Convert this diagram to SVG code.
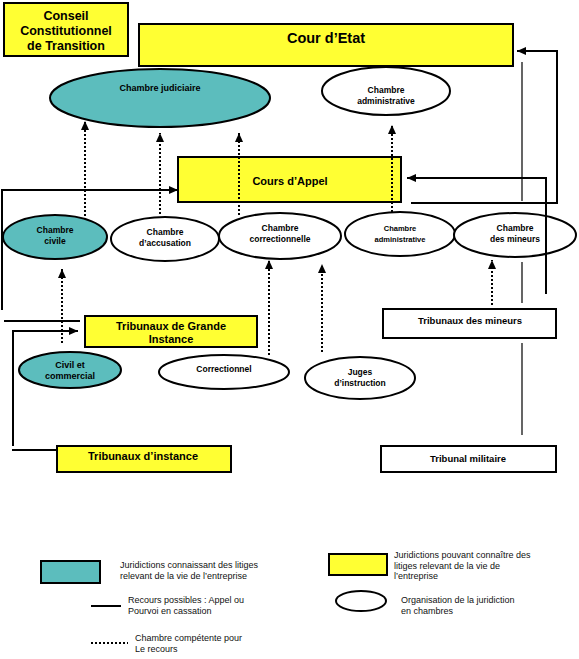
<svg xmlns="http://www.w3.org/2000/svg" width="579" height="659" viewBox="0 0 579 659">
<defs>
<marker id="ah" markerUnits="userSpaceOnUse" markerWidth="10" markerHeight="10" viewBox="0 0 10 10" refX="9" refY="5" orient="auto">
<path d="M0,1 L9,5 L0,9 Z" fill="#000" stroke="none"/>
</marker>
<style>
.y{fill:#FFFF33;stroke:#000;stroke-width:2}
.w{fill:#fff;stroke:#000;stroke-width:2}
.t{fill:#5CBDBD;stroke:#000;stroke-width:2}
.s{fill:none;stroke:#000;stroke-width:2}
.th{fill:none;stroke:#000;stroke-width:1.2}
.d{fill:none;stroke:#000;stroke-width:2;stroke-dasharray:2,2}
text{font-family:"Liberation Sans",Arial,sans-serif;font-weight:bold;fill:#000;text-anchor:middle}
.ch{font-size:8.5px}
.lg{font-weight:normal;text-anchor:start;font-size:9px;fill:#111}
</style>
</defs>
<rect width="579" height="659" fill="#fff"/>

<g id="conseil">
<rect class="y" x="4" y="3" width="124" height="53"/>
<text x="66" y="20" font-size="12.5">Conseil</text>
<text x="66" y="35" font-size="12.5">Constitutionnel</text>
<text x="66" y="50" font-size="12.5">de Transition</text>
</g>

<g id="cour-etat">
<rect class="y" x="139" y="24" width="374" height="42"/>
<text x="326" y="43" font-size="14.5">Cour d’Etat</text>
</g>

<g id="chambre-judiciaire">
<ellipse class="t" cx="160" cy="98" rx="110" ry="29"/>
<text x="160" y="91" font-size="9">Chambre judiciaire</text>
</g>

<g id="chambre-admin-etat">
<ellipse class="w" cx="386" cy="91" rx="64" ry="24"/>
<text class="ch" x="386" y="93">Chambre</text>
<text class="ch" x="386" y="104">administrative</text>
</g>

<g id="cours-appel">
<rect class="y" x="178" y="157" width="223" height="45"/>
<text x="290" y="185" font-size="11">Cours d’Appel</text>
</g>

<g id="chambre-civile">
<ellipse class="t" cx="55" cy="237" rx="52" ry="22"/>
<text class="ch" x="55" y="233">Chambre</text>
<text class="ch" x="55" y="244">civile</text>
</g>

<g id="chambre-accusation">
<ellipse class="w" cx="165" cy="239" rx="54" ry="22"/>
<text class="ch" x="165" y="235">Chambre</text>
<text class="ch" x="165" y="246">d’accusation</text>
</g>

<g id="chambre-correctionnelle">
<ellipse class="w" cx="280" cy="236" rx="61" ry="23"/>
<text class="ch" x="280" y="231">Chambre</text>
<text class="ch" x="280" y="242">correctionnelle</text>
</g>

<g id="chambre-admin-appel">
<ellipse class="w" cx="400" cy="234" rx="55" ry="22"/>
<text x="400" y="231" font-size="7.5">Chambre</text>
<text x="400" y="242" font-size="7.5">administrative</text>
</g>

<g id="chambre-mineurs">
<ellipse class="w" cx="515" cy="235" rx="61" ry="22"/>
<text class="ch" x="515" y="231">Chambre</text>
<text class="ch" x="515" y="242">des mineurs</text>
</g>

<g id="tgi">
<rect class="y" x="85" y="316" width="172" height="31"/>
<text x="171" y="330" font-size="11">Tribunaux de Grande</text>
<text x="171" y="343" font-size="11">Instance</text>
</g>

<g id="civil-commercial">
<ellipse class="t" cx="70" cy="370" rx="51" ry="18"/>
<text x="70" y="368" font-size="9">Civil et</text>
<text x="70" y="379" font-size="9">commercial</text>
</g>

<g id="correctionnel">
<ellipse class="w" cx="224" cy="372" rx="65" ry="17"/>
<text class="ch" x="224" y="372">Correctionnel</text>
</g>

<g id="juges-instruction">
<ellipse class="w" cx="360" cy="378" rx="55" ry="21"/>
<text class="ch" x="360" y="375">Juges</text>
<text class="ch" x="360" y="386">d’instruction</text>
</g>

<g id="tribunaux-mineurs">
<rect class="w" x="383" y="309" width="173" height="29"/>
<text x="470" y="324" font-size="9.5">Tribunaux des mineurs</text>
</g>

<g id="tribunaux-instance">
<rect class="y" x="57" y="446" width="174" height="26"/>
<text x="143" y="460" font-size="11">Tribunaux d’instance</text>
</g>

<g id="tribunal-militaire">
<rect class="w" x="381" y="446" width="175" height="26"/>
<text x="468" y="462" font-size="9.5">Tribunal militaire</text>
</g>

<g id="connectors">
<path class="s" d="M2,310 V190 H178" marker-end="url(#ah)"/>
<path class="s" d="M4,321 H80"/>
<path class="s" d="M13,446 V331 H78" marker-end="url(#ah)"/>
<path class="s" d="M12,450 H57"/>
<path class="s" d="M411,203 H557 V51 H517" marker-end="url(#ah)"/>
<path class="s" d="M546,294 V178 H407" marker-end="url(#ah)"/>
<path class="th" d="M522,62 V201 M522,262 V303 M522,343 V435"/>
<path class="d" d="M85,216 V121" marker-end="url(#ah)"/>
<path class="d" d="M160,214 V133" marker-end="url(#ah)"/>
<path class="d" d="M239,215 V133" marker-end="url(#ah)"/>
<path class="d" d="M392,212 V125" marker-end="url(#ah)"/>
<path class="d" d="M62,343 V269" marker-end="url(#ah)"/>
<path class="d" d="M269,355 V260" marker-end="url(#ah)"/>
<path class="d" d="M322,352 V264" marker-end="url(#ah)"/>
<path class="d" d="M492,305 V260" marker-end="url(#ah)"/>
</g>

<g id="legend">
<rect class="t" x="41" y="561" width="59" height="22"/>
<text class="lg" x="120" y="568" font-size="8.5">Juridictions connaissant des litiges</text>
<text class="lg" x="120" y="579" font-size="8.5">relevant de la vie de l’entreprise</text>
<line class="s" x1="91" y1="606" x2="121" y2="606"/>
<text class="lg" x="128" y="603" font-size="8.5">Recours possibles : Appel ou</text>
<text class="lg" x="128" y="614" font-size="8.5">Pourvoi en cassation</text>
<line class="d" x1="91" y1="643" x2="128" y2="643"/>
<text class="lg" x="135" y="641" font-size="8.5">Chambre compétente pour</text>
<text class="lg" x="135" y="652" font-size="8.5">Le  recours</text>
<rect class="y" x="329" y="554" width="58" height="21"/>
<text class="lg" x="394" y="558" font-size="8.5">Juridictions pouvant connaître des</text>
<text class="lg" x="394" y="569" font-size="8.5">litiges relevant de la vie de</text>
<text class="lg" x="394" y="579" font-size="8.5">l’entreprise</text>
<ellipse class="w" cx="361" cy="601" rx="25" ry="10"/>
<text class="lg" x="401" y="603" font-size="8.5">Organisation de la juridiction</text>
<text class="lg" x="401" y="614" font-size="8.5">en chambres</text>
</g>
</svg>
